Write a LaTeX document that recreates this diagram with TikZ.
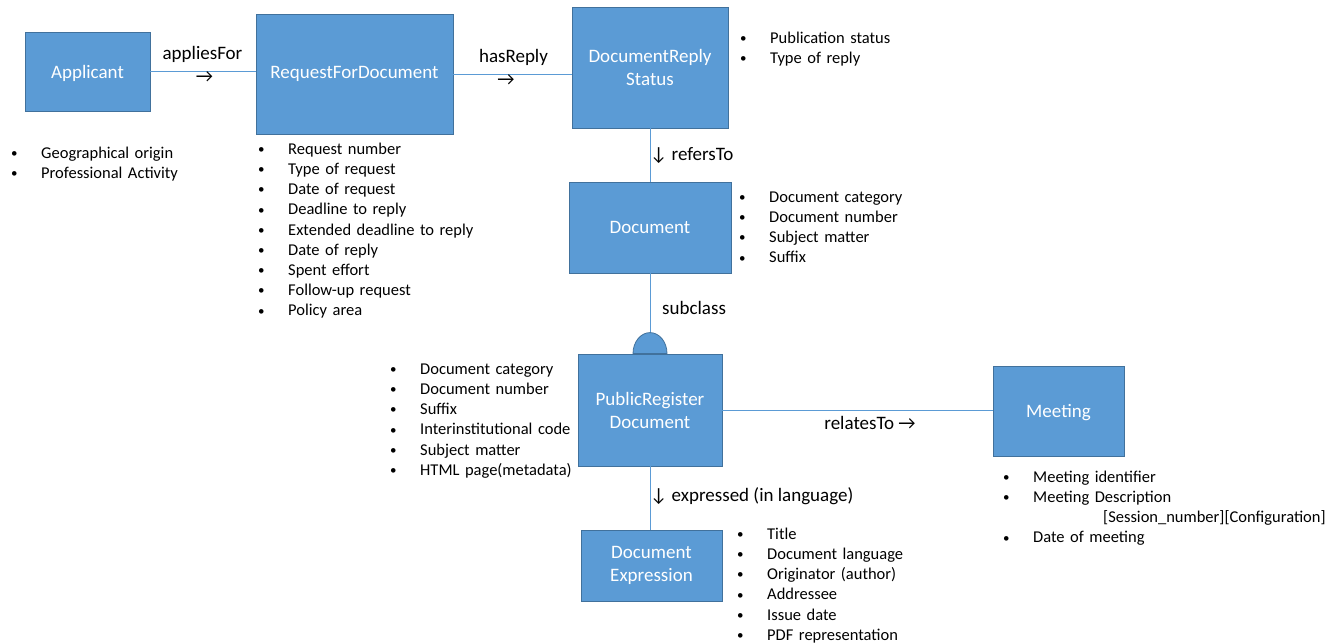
\documentclass[tikz,border=0pt]{standalone}
\usepackage{fontspec}
\setmainfont{Carlito}
\usetikzlibrary{calc}
\definecolor{boxblue}{HTML}{5B9BD5}
\definecolor{boxedge}{HTML}{41719C}
\newcommand\bitem[1]{\rule{0pt}{13pt}\makebox[30pt][l]{\raisebox{0.8pt}{\fontsize{13}{13}\selectfont\textbullet}}#1}
\begin{document}
\begin{tikzpicture}[x=1pt,y=-1pt,
 ent/.style={draw=boxedge, fill=boxblue, line width=0.8, text=white, font=\fontsize{19}{23}\selectfont, align=center, inner sep=0},
 conn/.style={draw=boxblue, line width=1},
 lbl/.style={font=\fontsize{19}{23}\selectfont, inner sep=0},
 attr/.style={font=\fontsize{16.5}{20.2}\selectfont, inner sep=0, align=left, anchor=north west, text width=340}]
\useasboundingbox[fill=white] (0,0) rectangle (1343,643);
% entities
\node[ent, minimum width=125, minimum height=79, text depth=0pt] (app) at (87.5,71.5) {Applicant};
\node[ent, minimum width=197, minimum height=120] (req) at (354.5,74) {\raisebox{-2pt}{RequestForDocument}};
\node[ent, minimum width=156, minimum height=121] (drs) at (650,67.5) {DocumentReply\\Status};
\node[ent, minimum width=162, minimum height=91] (doc) at (650,227.5) {Document};
\node[ent, minimum width=144, minimum height=112] (pr) at (650,410) {PublicRegister\\Document};
\node[ent, minimum width=141, minimum height=71] (dx) at (651.5,565.5) {Document\\Expression};
\node[ent, minimum width=131, minimum height=90, text depth=0pt] (meet) at (1058.5,411) {Meeting};
% connectors
\draw[conn] (app.east) -- (app.east -| req.west);
\draw[conn] (req.east) -- (req.east -| drs.west);
\draw[conn] (drs.south) -- (drs.south |- doc.north);
\coordinate (dometop) at ($(pr.north)+(0,-21)$);
\draw[conn] (doc.south) -- (dometop);
\filldraw[fill=boxblue, draw=boxedge, line width=0.8] ($(pr.north)+(-17,0)$) arc[start angle=180, end angle=360, x radius=17, y radius=21] -- cycle;
\draw[conn] (pr.east) -- (pr.east -| meet.west);
\draw[conn] (pr.south) -- (pr.south |- dx.north);
% connector labels
\node[lbl] (lapp) at (202.5,54) {appliesFor};
\node[lbl] (aapp) at (204.5,77) {→};
\node[lbl] (lhas) at (513.5,57) {hasReply};
\node[lbl] (ahas) at (506,80) {→};
\node[lbl, anchor=west] (lref) at (650,156) {↓ refersTo};
\node[lbl, anchor=west] (lsub) at (662,308) {subclass};
\node[lbl] (lrel) at (870,423) {relatesTo →};
\node[lbl, anchor=west] (lexp) at (650,496) {↓ expressed (in language)};
% attribute lists
\node[attr] (appl) at (11,145) {\bitem{Geographical origin}\\\bitem{Professional Activity}};
\node[attr] (reql) at (258,141) {\bitem{Request number}\\\bitem{Type of request}\\\bitem{Date of request}\\\bitem{Deadline to reply}\\\bitem{Extended deadline to reply}\\\bitem{Date of reply}\\\bitem{Spent effort}\\\bitem{Follow-up request}\\\bitem{Policy area}};
\node[attr] (drsl) at (740,30) {\bitem{Publication status}\\\bitem{Type of reply}};
\node[attr] (docl) at (739,189) {\bitem{Document category}\\\bitem{Document number}\\\bitem{Subject matter}\\\bitem{Suffix}};
\node[attr] (prl) at (390,361) {\bitem{Document category}\\\bitem{Document number}\\\bitem{Suffix}\\\bitem{Interinstitutional code}\\\bitem{Subject matter}\\\bitem{HTML page(metadata)}};
\node[attr] (dxl) at (737,526) {\bitem{Title}\\\bitem{Document language}\\\bitem{Originator (author)}\\\bitem{Addressee}\\\bitem{Issue date}\\\bitem{PDF representation}};
\node[attr] (meetl) at (1003,469) {\bitem{Meeting identifier}\\\bitem{Meeting Description}\\\hspace*{100pt}[Session\_number][Configuration]\\\bitem{Date of meeting}};
\end{tikzpicture}
\end{document}
